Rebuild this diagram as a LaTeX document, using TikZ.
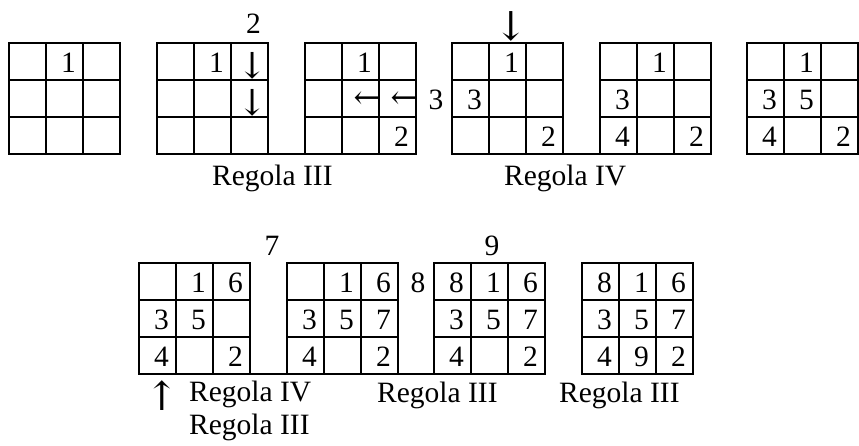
\documentclass[tikz,border=0pt]{standalone}
\usepackage{fontspec}
\setmainfont{Liberation Serif}
\newfontfamily\arrowfont{DejaVu Serif}
\tikzset{
  gridbox/.style={draw, line width=2pt, minimum width=111pt, minimum height=111pt, inner sep=0pt, outer sep=0pt},
  innerline/.style={line width=1.3pt},
  num/.style={anchor=base east, inner sep=0pt, font=\fontsize{29.5}{31}\selectfont},
  lbl/.style={inner sep=0pt, font=\fontsize{29.5}{31}\selectfont},
  varrow/.style={inner sep=0pt, font=\arrowfont\fontsize{36}{38}\selectfont},
  harrow/.style={inner sep=0pt, font=\arrowfont\fontsize{32}{34}\selectfont},
  bigarrow/.style={inner sep=0pt, font=\arrowfont\fontsize{40}{42}\selectfont},
  joinline/.style={line width=2pt},
}
\newcommand\mgrid[3]{%
  \node[gridbox] (#1) at (#2+55.5,-#3-55.5) {};
  \draw[innerline] (#2+37,-#3) -- ++(0,-111) (#2+74,-#3) -- ++(0,-111)
     (#2,-#3-37) -- ++(111,0) (#2,-#3-74) -- ++(111,0);
}
\newcommand\cnum[4]{%
  \path (#1.north west) ++(37*#2-7,-37*#3+7.5) node[num] (#1-#2#3) {#4};
}
\begin{document}
\begin{tikzpicture}[x=1pt,y=1pt]
\useasboundingbox (0,0) rectangle (859,-445);
% top row
\mgrid{ga}{9}{43}
\mgrid{gb}{157}{43}
\mgrid{gc}{305}{43}
\mgrid{gd}{452}{43}
\mgrid{ge}{600}{43}
\mgrid{gf}{747}{43}
\draw[joinline] (gb.south east) -- (gc.south west);
\draw[joinline] (gd.south east) -- (ge.south west);
\cnum{ga}{2}{1}{1}
\cnum{gb}{2}{1}{1}
\node[varrow] (gbar1) at (252.5,-65.5) {↓};
\node[varrow] (gbar2) at (252.5,-102.5) {↓};
\cnum{gc}{2}{1}{1}
\cnum{gc}{3}{3}{2}
\node[harrow] (gcar1) at (367,-100.5) {←};
\node[harrow] (gcar2) at (404,-100.5) {←};
\cnum{gd}{2}{1}{1}
\cnum{gd}{1}{2}{3}
\cnum{gd}{3}{3}{2}
\cnum{ge}{2}{1}{1}
\cnum{ge}{1}{2}{3}
\cnum{ge}{1}{3}{4}
\cnum{ge}{3}{3}{2}
\cnum{gf}{2}{1}{1}
\cnum{gf}{1}{2}{3}
\cnum{gf}{2}{2}{5}
\cnum{gf}{1}{3}{4}
\cnum{gf}{3}{3}{2}
\node[lbl, anchor=base] (t2) at (253.5,-33) {2};
\node[lbl, anchor=base] (t3) at (436,-109.5) {3};
\node[bigarrow] (tarr) at (511,-26) {↓};
\node[lbl, anchor=base west] (r1) at (212,-185) {Regola III};
\node[lbl, anchor=base west] (r2) at (504,-185) {Regola IV};
% bottom row
\mgrid{ha}{139}{263}
\mgrid{hb}{287}{263}
\mgrid{hc}{434}{263}
\mgrid{hd}{582}{263}
\draw[joinline] (ha.south east) -- (hb.south west);
\draw[joinline] (hb.south east) -- (hc.south west);
\foreach \g in {ha,hb,hc,hd}{
  \cnum{\g}{2}{1}{1}
  \cnum{\g}{3}{1}{6}
  \cnum{\g}{1}{2}{3}
  \cnum{\g}{2}{2}{5}
  \cnum{\g}{1}{3}{4}
  \cnum{\g}{3}{3}{2}
}
\foreach \g in {hb,hc,hd}{ \cnum{\g}{3}{2}{7} }
\foreach \g in {hc,hd}{ \cnum{\g}{1}{1}{8} }
\cnum{hd}{2}{3}{9}
\node[lbl, anchor=base] (b7) at (272,-255) {7};
\node[lbl, anchor=base] (b9) at (492,-255) {9};
\node[lbl, anchor=base] (b8) at (418,-292) {8};
\node[bigarrow] (barr) at (162,-395.5) {↑};
\node[lbl, anchor=base west] (s1) at (189,-401) {Regola IV};
\node[lbl, anchor=base west] (s2) at (189,-434.5) {Regola III};
\node[lbl, anchor=base west] (s3) at (377,-402) {Regola III};
\node[lbl, anchor=base west] (s4) at (559,-402) {Regola III};
\end{tikzpicture}
\end{document}
